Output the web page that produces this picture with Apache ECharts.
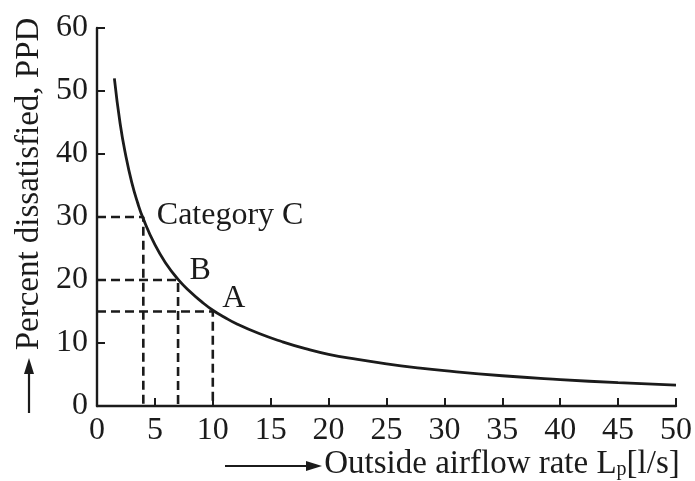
<!DOCTYPE html>
<html>
<head>
<meta charset="utf-8">
<script src="https://cdn.jsdelivr.net/npm/echarts@6/dist/echarts.min.js"></script>
<style>
html,body{margin:0;padding:0;background:#fff;}
#chart{width:695px;height:481px;}
</style>
</head>
<body>
<div id="chart"></div>
<script>
// Data
const flowRate = [1.5, 2, 2.5, 3, 3.5, 4, 5, 6, 7, 8, 9, 10, 11, 12, 14, 16, 18, 20, 22.5, 25, 27.5, 30, 35, 40, 45, 50];
const ppd      = [52, 44.8, 39.6, 35.5, 32.3, 29.7, 25.6, 22.5, 20.1, 18.2, 16.6, 15.2, 14.1, 13.1, 11.5, 10.2, 9.1, 8.2, 7.4, 6.7, 6.1, 5.6, 4.8, 4.2, 3.7, 3.3];
const categoryNames = ['Category C', 'B', 'A'];
const categoryFlow  = [4, 7, 10];
const categoryPPD   = [30, 20, 15];
const xTicks = [0, 5, 10, 15, 20, 25, 30, 35, 40, 45, 50];
const yTicks = [0, 10, 20, 30, 40, 50, 60];

const ink = '#1b1b1b';
const font = 'Liberation Serif';

const guideSeries = categoryFlow.map((x, i) => ({
  type: 'line',
  data: [[0, categoryPPD[i]], [x, categoryPPD[i]], [x, 0]],
  showSymbol: false,
  symbol: 'none',
  silent: true,
  lineStyle: { color: ink, width: 2.6, type: [9, 5] },
  z: 2
}));

const labelOffsets = [[8, -1], [6, -9], [4, -13]];

const option = {
  backgroundColor: '#fff',
  animation: false,
  grid: { left: 97, right: 15, top: 28, bottom: 75, containLabel: false },
  xAxis: {
    type: 'value', min: xTicks[0], max: xTicks[xTicks.length - 1], interval: 5,
    axisLine: { lineStyle: { color: ink, width: 2.4 } },
    axisTick: { inside: true, length: 8, lineStyle: { color: ink, width: 2 } },
    splitLine: { show: false },
    axisLabel: { color: ink, fontFamily: font, fontSize: 32, margin: 9 }
  },
  yAxis: {
    type: 'value', min: yTicks[0], max: yTicks[yTicks.length - 1], interval: 10,
    axisLine: { show: true, lineStyle: { color: ink, width: 2.4 } },
    axisTick: { show: true, inside: true, length: 8, lineStyle: { color: ink, width: 2 } },
    splitLine: { show: false },
    axisLabel: { color: ink, fontFamily: font, fontSize: 32, margin: 9 }
  },
  series: [
    {
      type: 'line',
      data: flowRate.map((x, i) => [x, ppd[i]]),
      smooth: 0.5,
      showSymbol: false,
      symbol: 'none',
      lineStyle: { color: ink, width: 2.8 },
      z: 3
    },
    ...guideSeries,
    {
      type: 'scatter',
      data: categoryFlow.map((x, i) => ({
        value: [x, categoryPPD[i]],
        name: categoryNames[i],
        label: { offset: labelOffsets[i] }
      })),
      symbolSize: 1,
      itemStyle: { color: 'transparent', opacity: 1 },
      label: {
        show: true, position: 'right', formatter: p => p.name,
        color: ink, opacity: 1, fontFamily: font, fontSize: 32
      },
      silent: true,
      z: 4
    }
  ],
  graphic: [
    {
      type: 'text',
      x: 502, y: 464,
      style: {
        text: '{a|Outside airflow rate L}{s|p}{a|[l/s]}',
        textAlign: 'center', textVerticalAlign: 'middle',
        fill: ink,
        rich: {
          a: { fontFamily: font, fontSize: 33, fill: ink },
          s: { fontFamily: font, fontSize: 20, fill: ink, padding: [12, 0, 0, 0] }
        }
      }
    },
    {
      type: 'line',
      shape: { x1: 225, y1: 466, x2: 312, y2: 466 },
      style: { stroke: ink, lineWidth: 2.2 }
    },
    {
      type: 'polygon',
      shape: { points: [[322, 466], [306, 461], [306, 471]] },
      style: { fill: ink }
    },
    {
      type: 'text',
      x: 29, y: 184,
      rotation: Math.PI / 2,
      style: {
        text: 'Percent dissatisfied, PPD',
        textAlign: 'center', textVerticalAlign: 'middle',
        fontFamily: font, fontSize: 33, fill: ink
      }
    },
    {
      type: 'line',
      shape: { x1: 29, y1: 413, x2: 29, y2: 370 },
      style: { stroke: ink, lineWidth: 2.2 }
    },
    {
      type: 'polygon',
      shape: { points: [[29, 358], [24, 374], [34, 374]] },
      style: { fill: ink }
    }
  ]
};

echarts.init(document.getElementById('chart')).setOption(option);
</script>
</body>
</html>
